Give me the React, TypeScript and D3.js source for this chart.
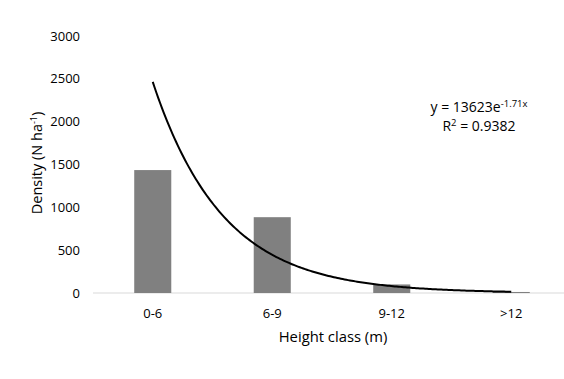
import React from "react";
import * as d3 from "d3";

const categories = ["0-6", "6-9", "9-12", ">12"];
const densities = [1435, 885, 100, 12];
const yTicks = [0, 500, 1000, 1500, 2000, 2500, 3000];
const trendA = 13623;
const trendB = -1.71;
const equationText = "y = 13623e";
const equationExp = "-1.71x";
const r2Text = "0.9382";

const W = 564;
const H = 379;
const FONT = "'Open Sans', sans-serif";

export default function App() {
  const x = d3.scaleBand<string>().domain(categories).range([93, 571]).padding(0);
  const y = d3.scaleLinear().domain([0, 3000]).range([293, 36]);
  const bw = x.bandwidth();
  const barW = bw * 0.31;
  const cx = (c: string) => (x(c) as number) + bw / 2;

  const xPos = d3.scaleLinear().domain([1, 4]).range([cx(categories[0]), cx(categories[3])]);
  const samples = d3.range(0, 201).map((i) => 1 + (3 * i) / 200);
  const line = d3
    .line<number>()
    .x((t) => xPos(t))
    .y((t) => y(trendA * Math.exp(trendB * t)))
    .curve(d3.curveLinear);

  return (
    <svg width={W} height={H} style={{ position: "absolute", left: 0, top: 0, background: "#fff" }} fontFamily={FONT}>
      <rect x={0} y={0} width={W} height={H} fill="#fff" />
      {yTicks.map((t) => (
        <text key={t} x={80} y={y(t)} dy="0.35em" textAnchor="end" fontSize={13} fill="#000">
          {t}
        </text>
      ))}
      <line x1={93} x2={W} y1={y(0)} y2={y(0)} stroke="#d9d9d9" strokeWidth={1} />
      {categories.map((c, i) => (
        <rect key={c} x={cx(c) - barW / 2} y={y(densities[i])} width={barW} height={y(0) - y(densities[i])} fill="#808080" />
      ))}
      <path d={line(samples) || ""} fill="none" stroke="#000" strokeWidth={2} />
      {categories.map((c) => (
        <text key={c} x={cx(c)} y={313} dy="0.35em" textAnchor="middle" fontSize={13} fill="#000">
          {c}
        </text>
      ))}
      <text x={333} y={337} dy="0.35em" textAnchor="middle" fontSize={14.8} fill="#000">
        Height class (m)
      </text>
      <text transform={`translate(37,163) rotate(-90)`} textAnchor="middle" dy="0.35em" fontSize={14.5} fill="#000">
        Density  (N ha
        <tspan fontSize={9} dy="-5">-1</tspan>
        <tspan dy="5">)</tspan>
      </text>
      <text x={479} y={107} dy="0.35em" textAnchor="middle" fontSize={14} fill="#000">
        {equationText}
        <tspan fontSize={9.5} dy="-5">{equationExp}</tspan>
      </text>
      <text x={479} y={126} dy="0.35em" textAnchor="middle" fontSize={14} fill="#000">
        R<tspan fontSize={9.5} dy="-5">2</tspan>
        <tspan dy="5"> = {r2Text}</tspan>
      </text>
    </svg>
  );
}
